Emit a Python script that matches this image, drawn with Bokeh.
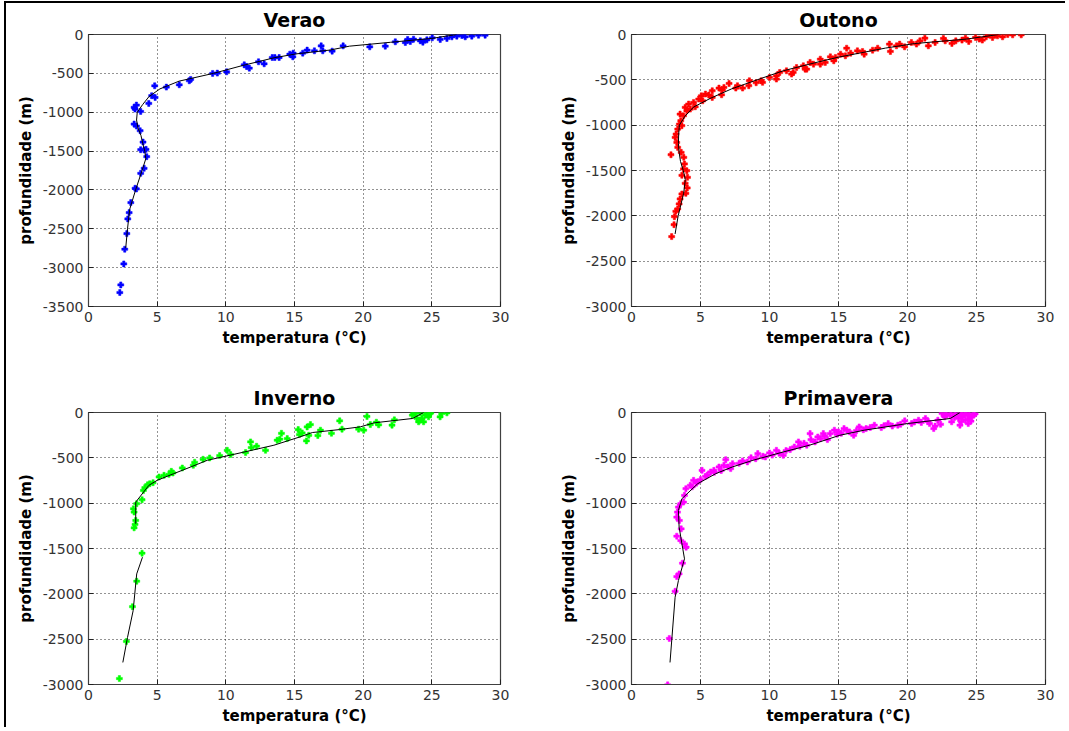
from bokeh.plotting import figure
from bokeh.models import Range1d, FixedTicker, Div
from bokeh.layouts import column, row
from bokeh.embed import file_html
from bokeh.resources import INLINE

nan = float("nan")

x_ticks = [0, 5, 10, 15, 20, 25, 30]
y_ticks_verao = [0, -500, -1000, -1500, -2000, -2500, -3000, -3500]
y_ticks_other = [0, -500, -1000, -1500, -2000, -2500, -3000]
titles = ["Verao", "Outono", "Inverno", "Primavera"]
x_label = "temperatura (°C)"
y_label = "profundidade (m)"

# Verao (summer) observations
verao_t = [2.28, 2.35, 2.57, 2.64, 2.79, 2.86, 2.96, 3.08, 3.39, 3.49, 3.80, 4.05, 4.24, 4.05, 3.80, 4.19,
           3.97, 3.76, 3.49, 3.32, 3.80, 3.32, 3.49, 3.39, 4.39, 4.60, 4.85, 4.82, 5.67, 6.61, 7.34, 7.44,
           9.04, 9.38, 10.06, 11.34, 11.51, 11.71, 12.38, 12.79, 13.38, 13.57, 13.88, 14.66, 14.88, 14.90,
           15.60, 15.92, 16.45, 16.94, 17.06, 17.74, 18.54, 20.48, 21.61, 22.34, 23.07, 23.24, 23.43, 23.67,
           24.16, 24.35, 24.64, 25.03, 25.61, 26.10, 26.46, 26.82, 27.19, 27.43, 27.91, 28.40, 28.88]
verao_z = [-3320, -3222, -2952, -2763, -2562, -2373, -2292, -2163, -1979, -1988, -1786, -1722, -1572, -1486,
           -1482, -1478, -1384, -1238, -1178, -1152, -990, -938, -908, -960, -887, -788, -810, -660, -677,
           -647, -595, -578, -501, -497, -480, -390, -411, -433, -351, -377, -296, -296, -296, -253, -287,
           -240, -240, -201, -210, -146, -210, -214, -146, -159, -150, -94, -103, -64, -90, -60, -81, -99,
           -69, -43, -64, -51, -30, -21, -13, -30, -21, -9, -9]
verao_line_t = [26.8, 25.0, 22.0, 19.0, 17.6, 15.1, 13.5, 11.2, 9.1, 6.6, 5.2, 4.4, 3.95, 3.55, 3.5, 3.6,
                3.82, 3.95, 4.1, 4.17, 3.9, 3.43, 3.0, 2.84, 2.71]
verao_line_z = [0, -50, -100, -150, -200, -250, -300, -400, -500, -600, -700, -800, -900, -1000, -1100,
                -1200, -1300, -1400, -1500, -1600, -1750, -2000, -2250, -2500, -2750]

# Outono (autumn) observations
outono_t = [2.91, 3.08, 3.11, 3.21, 3.35, 3.45, 3.52, 3.65, 3.94, 4.04, 3.89, 4.06, 4.01, 3.77, 3.65, 3.84,
            3.79, 3.60, 2.86, 3.35, 3.28, 3.16, 3.23, 3.35, 3.47, 3.65, 3.57, 3.52, 3.77, 4.01, 3.89, 4.26,
            4.14, 4.50, 4.62, 4.87, 5.06, 5.36, 5.60, 5.16, 6.53, 6.34, 6.58, 7.07, 7.68, 8.05, 8.54, 9.03,
            9.40, 10.0, 10.5, 10.74, 11.23, 11.72, 11.96, 12.45, 12.58, 12.94, 13.19, 13.68, 14.04, 14.41,
            14.78, 15.15, 15.59, 15.88, 16.37, 16.74, 17.47, 17.84, 18.69, 18.76, 19.43, 19.79, 20.28, 20.65,
            21.26, 21.51, 22.0, 22.73, 23.22, 23.95, 24.44, 24.93, 25.42, 25.91, 26.16, 26.52, 26.89, 27.26,
            27.62, 28.24, 22.6, 24.2, 25.7, 26.4, 25.2, 23.5, 20.9, 19.2, 16.86, 15.5, 14.66, 13.68, 12.7,
            11.6, 10.5, 9.5, 8.5, 7.56, 6.7, 5.85, 5.85]
outono_z = [-2229, -2097, -2009, -1950, -1924, -1869, -1814, -1759, -1752, -1693, -1641, -1575, -1502, -1483,
            -1553, -1428, -1355, -1300, -1326, -1245, -1190, -1135, -1098, -1043, -988, -1006, -951, -878,
            -896, -841, -804, -823, -767, -749, -797, -712, -676, -657, -668, -731, -665, -591, -613, -540,
            -565, -591, -510, -532, -510, -474, -455, -419, -400, -419, -364, -345, -382, -308, -327, -272,
            -308, -246, -253, -217, -151, -206, -180, -187, -173, -151, -106, -187, -106, -136, -88, -106,
            -40, -125, -88, -70, -99, -62, -77, -33, -62, 0, -33, -15, -26, 0, -4, -4, -44, -40, -26, 0, -51,
            -70, -70, -125, -217, -235, -290, -327, -382, -437, -492, -528, -565, -591, -584, -620, -694]
outono_line_t = [26.6, 24.3, 20.5, 18.4, 16.7, 15.0, 13.6, 11.0, 9.1, 7.25, 5.77, 4.5, 3.88, 3.47, 3.42,
                 3.4, 3.45, 3.55, 3.75, 3.9, 3.78, 3.38, 3.16]
outono_line_z = [0, -50, -100, -150, -200, -250, -300, -400, -500, -600, -700, -800, -900, -1000, -1100,
                 -1200, -1300, -1400, -1500, -1600, -1750, -2000, -2200]

# Inverno (winter) observations
inverno_t = [2.25, 2.76, 3.20, 3.51, 3.90, 3.32, 3.39, 3.44, 3.32, 3.27, 3.51, 3.90, 4.00, 4.10, 4.31, 4.46,
             4.70, 5.14, 5.50, 5.86, 6.03, 6.15, 6.83, 7.63, 7.73, 8.34, 8.82, 9.55, 10.10, 10.35, 11.44,
             11.80, 11.85, 12.24, 12.89, 13.74, 13.93, 14.05, 14.47, 15.27, 15.36, 15.56, 15.92, 15.87, 16.16,
             16.04, 16.70, 16.89, 17.69, 18.29, 18.46, 19.67, 20.04, 20.28, 20.52, 20.96, 21.13, 22.10, 22.27,
             23.58, 23.67, 23.92, 24.04, 24.16, 24.28, 24.40, 24.52, 24.64, 24.76, 24.88, 24.93, 23.80, 24.1,
             25.6, 25.72, 26.10]
inverno_z = [-2934, -2525, -2142, -1861, -1552, -1272, -1235, -1191, -1098, -1062, -1006, -962, -859, -829,
             -796, -785, -774, -711, -693, -682, -649, -667, -612, -582, -549, -516, -501, -475, -417, -464,
             -442, -324, -387, -372, -417, -306, -295, -229, -288, -188, -243, -225, -159, -313, -133, -251,
             -254, -195, -229, -92, -184, -184, -195, -44, -133, -107, -136, -140, -81, -29, -11, -66, -103,
             -4, -66, -103, -29, -4, -48, -11, 0, -11, -85, -48, -11, -4]
inverno_line_t = [24.4, 23.6, 20.8, 19.8, 18.3, 16.3, 15.4, 13.5, 10.6, 8.65, 7.44, 6.2, 5.0, 4.4, 3.44,
                  3.44, nan, 3.93, 3.51, 3.25, 2.84, 2.5]
inverno_line_z = [0, -66, -114, -158, -188, -221, -269, -361, -461, -527, -601, -675, -748, -803, -988,
                  -1227, nan, -1596, -1780, -2186, -2481, -2757]

# Primavera (spring) observations
primavera_t = [2.62, 2.74, 3.16, 3.28, 3.45, 3.69, 3.96, 3.84, 3.57, 3.28, 3.60, 3.47, 3.28, 3.33, 3.40,
               3.57, 3.77, 3.84, 3.94, 4.26, 4.50, 4.75, 5.11, 5.36, 5.73, 5.97, 6.34, 6.83, 6.70, 7.19, 7.32,
               8.05, 8.66, 9.15, 9.52, 10.0, 10.5, 11.0, 11.5, 12.1, 12.2, 12.7, 12.94, 13.3, 13.7, 13.9,
               14.2, 14.4, 14.7, 15.0, 15.4, 15.8, 16.1, 16.5, 17.0, 17.6, 18.1, 18.6, 19.3, 19.8, 20.3, 20.8,
               21.3, 21.6, 21.9, 22.2, 22.5, 22.7, 23.0, 23.2, 23.6, 23.8, 24.0, 24.2, 24.3, 24.4, 24.6, 24.7,
               24.8, 23.3, 22.6, 24.05, 23.7, 24.4,
               22.8, 23.1, 23.4, 23.9, 24.1, 24.5, 24.9, 24.6, 23.9, 22.4, 22.0, 21.5, 21.0, 20.5, 19.5, 18.9,
               18.3, 17.3, 16.8, 16.3, 15.6, 15.2, 14.9, 14.0, 13.5, 13.0, 12.5, 11.8, 11.2, 10.7, 10.2, 9.7,
               9.0, 8.4, 7.8, 7.0, 6.5, 6.0, 5.5, 5.0, 4.7, 4.4]
primavera_z = [-3004, -2492, -1972, -1810, -1780, -1662, -1485, -1449, -1412, -1364, -1283, -1191, -1154,
               -1098, -1043, -1006, -988, -914, -840, -803, -748, -767, -638, -704, -656, -638, -601, -520,
               -582, -619, -564, -534, -498, -453, -483, -446, -417, -472, -409, -324, -372, -361, -232, -324,
               -288, -232, -299, -232, -195, -214, -177, -214, -251, -159, -177, -140, -166, -122, -140, -92,
               -122, -85, -66, -122, -177, -85, -11, -48, 0, -103, -11, -140, -48, -85, -11, -122, -48, 0,
               -29, 0, 0, 0, -66, -29,
               -20, -35, -55, -25, -10, -70, -15, -95, -100, -130, -150, -100, -110, -105, -130, -150, -145,
               -165, -190, -200, -195, -230, -240, -260, -270, -300, -340, -380, -420, -450, -470, -490, -510,
               -545, -560, -600, -640, -660, -690, -740, -780, -820]
primavera_line_t = [23.8, 23.1, 20.0, 16.86, 15.1, 12.9, 11.0, 8.8, 7.3, 6.1, 4.8, 3.65, 3.4, 3.45, 3.84,
                    3.40, 3.16, 2.79]
primavera_line_z = [0, -66, -122, -195, -251, -361, -435, -527, -601, -675, -785, -951, -1080, -1264, -1614,
                    -1854, -2038, -2757]

colors = ["#0000FF", "#FF0000", "#00FF00", "#FF00FF"]

FONT = "DejaVu Sans"


def panel(title, t, z, lt, lz, color, ymin, yticks, width, height, bl, br, bt, bb):
    p = figure(width=width, height=height, x_range=Range1d(0, 30), y_range=Range1d(ymin, 0),
               output_backend="svg", toolbar_location=None,
               min_border_left=bl, min_border_right=br, min_border_top=bt, min_border_bottom=bb)
    p.background_fill_color = "white"
    p.border_fill_color = "white"
    p.outline_line_color = "#404040"
    p.outline_line_width = 1.2

    p.title.text = title
    p.title.align = "center"
    p.title.text_font = FONT
    p.title.text_font_style = "bold"
    p.title.text_font_size = "19px"
    p.title.text_color = "black"
    p.title.standoff = 7

    p.xaxis.ticker = FixedTicker(ticks=x_ticks)
    p.yaxis.ticker = FixedTicker(ticks=yticks)
    p.yaxis.major_label_overrides = {v: str(v) for v in yticks}
    for ax in (p.xaxis, p.yaxis):
        ax.axis_line_color = "#404040"
        ax.major_tick_in = 5
        ax.major_tick_out = 0
        ax.major_tick_line_color = "#202020"
        ax.minor_tick_line_color = None
        ax.major_label_text_font = FONT
        ax.major_label_text_font_size = "14px"
        ax.major_label_text_color = "#333333"
        ax.major_label_standoff = 5
        ax.axis_label_text_font = FONT
        ax.axis_label_text_font_style = "bold"
        ax.axis_label_text_font_size = "15px"
        ax.axis_label_text_color = "black"
    p.xaxis.axis_label = x_label
    p.xaxis.axis_label_standoff = 4
    p.yaxis.axis_label = y_label
    p.yaxis.axis_label_standoff = 5

    for g in (p.xgrid, p.ygrid):
        g.grid_line_color = "black"
        g.grid_line_dash = "1 3"
        g.grid_line_alpha = 0.85
        g.grid_line_width = 1

    n = min(len(t), len(z))
    p.scatter(t[:n], z[:n], marker="plus", size=6, fill_color=color, line_color=color, line_width=0.5)
    p.line(lt, lz, line_color="black", line_width=1)
    return p


p1 = panel(titles[0], verao_t, verao_z, verao_line_t, verao_line_z, colors[0], -3500, y_ticks_verao,
           544, 378, 82, 50, 31, 75)
p2 = panel(titles[1], outono_t, outono_z, outono_line_t, outono_line_z, colors[1], -3000, y_ticks_other,
           511, 378, 81, 16, 31, 75)
p3 = panel(titles[2], inverno_t, inverno_z, inverno_line_t, inverno_line_z, colors[2], -3000, y_ticks_other,
           544, 346, 82, 50, 31, 43)
p4 = panel(titles[3], primavera_t, primavera_z, primavera_line_t, primavera_line_z, colors[3], -3000,
           y_ticks_other, 511, 346, 81, 16, 31, 43)

top_bar = Div(text="", width=1061, height=2, margin=(1, 0, 0, 4), styles={"background-color": "black"})
left_bar = Div(text="", width=2, height=724, margin=(0, 0, 0, 4), styles={"background-color": "black"})
grid = column(row(p1, p2), row(p3, p4))
layout = column(top_bar, row(left_bar, grid))

open("out.html", "w").write(file_html(layout, INLINE))
